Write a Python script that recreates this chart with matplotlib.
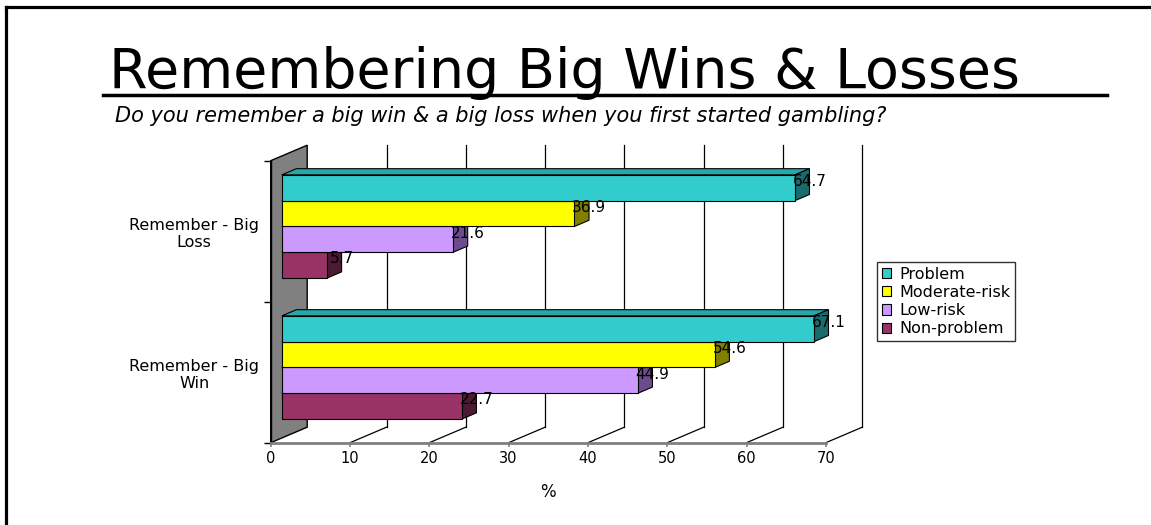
import matplotlib
matplotlib.use("Agg")
import matplotlib.pyplot as plt
from matplotlib.patches import Polygon, Patch
from matplotlib.lines import Line2D

# ---------------- data ----------------
categories = ["Remember - Big\nWin", "Remember - Big\nLoss"]
series_names = ["Problem", "Moderate-risk", "Low-risk", "Non-problem"]
problem = [67.1, 64.7]
moderate_risk = [54.6, 36.9]
low_risk = [44.9, 21.6]
non_problem = [22.7, 5.7]
x_ticks = [0, 10, 20, 30, 40, 50, 60, 70]

title = "Remembering Big Wins & Losses"
subtitle = "Do you remember a big win & a big loss when you first started gambling?"
x_label = "%"

# ---------------- style ----------------
front_cols = ["#33CCCC", "#FFFF00", "#CC99FF", "#993366"]
side_cols = ["#1A6B6B", "#808000", "#6B4C8C", "#4D1A33"]
top_cols = ["#29A6A6", "#CCCC00", "#A37ACC", "#7A2952"]

W, H = 1151, 525
fig = plt.figure(figsize=(W / 100, H / 100), dpi=100)
fig.patch.set_facecolor("white")

ax = fig.add_axes([270.7 / W, (H - 442.7) / H, 555.1 / W, 282.0 / H])
ax.set_xlim(0, 70)
ax.set_ylim(0, 2)
ax.patch.set_visible(False)

# wall depth expressed in data units
px_x = 555.1 / 70.0
px_y = 282.0 / 2.0
DX = 36.5 / px_x
DY = 15.5 / px_y


def P(v, y, d):
    return (v + d * DX, y + d * DY)


# side wall (gray)
ax.add_patch(Polygon([P(0, 0, 0), P(0, 2, 0), P(0, 2, 1), P(0, 0, 1)],
                     closed=True, facecolor="#808080", edgecolor="black",
                     lw=1.0, clip_on=False, zorder=1))

# back-wall gridlines and floor lines
for t in x_ticks[1:]:
    a, b = P(t, 0, 1), P(t, 2, 1)
    ax.plot([a[0], b[0]], [a[1], b[1]], color="black", lw=0.9,
            clip_on=False, zorder=1)
    a0 = P(t, 0, 0)
    ax.plot([a0[0], a[0]], [a0[1], a[1]], color="black", lw=0.9,
            clip_on=False, zorder=1)

# bars
series = [problem, moderate_risk, low_risk, non_problem]
bh = 0.183
d_f = 11.1 / 36.5
d_b = 25.7 / 36.5
centers = [0.5, 1.5]
for gi, c in enumerate(centers):
    # draw from the bottom bar up so upper bars hide lower top faces
    for si in reversed(range(len(series))):
        v = series[si][gi]
        y1 = c + (2 - si) * bh
        y0 = y1 - bh
        ax.add_patch(Polygon([P(0, y1, d_f), P(v, y1, d_f), P(v, y1, d_b), P(0, y1, d_b)],
                             closed=True, facecolor=top_cols[si], edgecolor="black",
                             lw=0.8, clip_on=False, zorder=3))
        ax.add_patch(Polygon([P(v, y0, d_f), P(v, y1, d_f), P(v, y1, d_b), P(v, y0, d_b)],
                             closed=True, facecolor=side_cols[si], edgecolor="black",
                             lw=0.8, clip_on=False, zorder=3))
        ax.add_patch(Polygon([P(0, y0, d_f), P(v, y0, d_f), P(v, y1, d_f), P(0, y1, d_f)],
                             closed=True, facecolor=front_cols[si], edgecolor="black",
                             lw=0.8, clip_on=False, zorder=3))
        lx, ly = P(v, (y0 + y1) / 2, d_b)
        ax.text(lx, ly, f"{v:.1f}", ha="center", va="center", fontsize=11,
                color="black", zorder=5, clip_on=False)

# axes: spines / ticks
for s in ["top", "right"]:
    ax.spines[s].set_visible(False)
ax.spines["left"].set_color("black")
ax.spines["left"].set_linewidth(1.0)
ax.spines["left"].set_zorder(2)
ax.spines["bottom"].set_color("#808080")
ax.spines["bottom"].set_linewidth(2.0)
ax.set_xticks(x_ticks)
ax.set_xticklabels([str(t) for t in x_ticks], fontsize=10.5)
ax.tick_params(axis="x", length=3, width=1.2, color="#808080", pad=3)
ax.set_yticks([0, 1, 2])
ax.set_yticklabels([])
ax.tick_params(axis="y", which="major", length=5, width=1.0, color="black")
ax.set_yticks(centers, minor=True)
ax.set_yticklabels(categories, minor=True, fontsize=11.5, ha="center",
                   multialignment="center")
ax.tick_params(axis="y", which="minor", length=0, pad=55)
ax.set_xlabel(x_label, fontsize=12, labelpad=12)

# legend
handles = [Patch(facecolor=front_cols[i], edgecolor="black", lw=0.8,
                 label=series_names[i]) for i in range(4)]
leg = fig.legend(handles=handles, loc="upper left",
                 bbox_to_anchor=(877 / W, 1 - 262 / H), fontsize=11.5,
                 frameon=True, fancybox=False, shadow=False,
                 handlelength=0.6, handleheight=0.6, handletextpad=0.5,
                 labelspacing=0.2, borderpad=0.3, borderaxespad=0)
leg.get_frame().set_edgecolor("black")
leg.get_frame().set_linewidth(1.0)

# title, underline, subtitle
fig.text(109 / W, 1 - 88 / H, title, fontsize=40, ha="left", va="baseline",
         color="black")
fig.add_artist(Line2D([103 / W, 1107 / W], [1 - 95 / H, 1 - 95 / H],
                      color="black", lw=2.5, transform=fig.transFigure))
fig.text(115 / W, 1 - 116 / H, subtitle, fontsize=15, style="italic",
         ha="left", va="center", color="black")

# outer frame (left and top)
fig.add_artist(Line2D([5.5 / W, 5.5 / W], [0, 1 - 7 / H], color="black",
                      lw=2.3, transform=fig.transFigure))
fig.add_artist(Line2D([5.5 / W, 1.0], [1 - 7 / H, 1 - 7 / H], color="black",
                      lw=2.3, transform=fig.transFigure))

fig.savefig("out.png", dpi=100, facecolor="white")
